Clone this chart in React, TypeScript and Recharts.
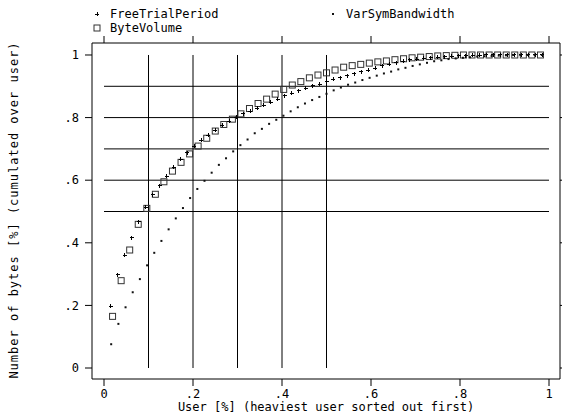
import { ScatterChart, Scatter, XAxis, YAxis, ReferenceLine } from "recharts";

const FONT = "'DejaVu Sans Mono', monospace";

const xTicks = [0, 0.2, 0.4, 0.6, 0.8, 1];
const yTicks = [0, 0.2, 0.4, 0.6, 0.8, 1];
const hLines = [0.5, 0.6, 0.7, 0.8, 0.9];
const vLines = [0.1, 0.2, 0.3, 0.4, 0.5];

// FreeTrialPeriod (+)
const freeTrialX = [
  0.0156, 0.0313, 0.0469, 0.0625, 0.0781, 0.0938, 0.1094, 0.125, 0.1406, 0.1563,
  0.1719, 0.1875, 0.2031, 0.2188, 0.2344, 0.25, 0.2656, 0.2813, 0.2969, 0.3125,
  0.3281, 0.3438, 0.3594, 0.375, 0.3906, 0.4063, 0.4219, 0.4375, 0.4531, 0.4688,
  0.4844, 0.5, 0.5156, 0.5313, 0.5469, 0.5625, 0.5781, 0.5938, 0.6094, 0.625,
  0.6406, 0.6563, 0.6719, 0.6875, 0.7031, 0.7188, 0.7344, 0.75, 0.7656, 0.7813,
  0.7969, 0.8125, 0.8281, 0.8438, 0.8594, 0.875, 0.8906, 0.9063, 0.9219, 0.9375,
  0.9531, 0.9688, 0.9844,
];
const freeTrialY = [
  0.197, 0.298, 0.36, 0.416, 0.467, 0.513, 0.553, 0.583, 0.613, 0.641,
  0.667, 0.688, 0.709, 0.727, 0.744, 0.76, 0.775, 0.789, 0.801, 0.812,
  0.82, 0.83, 0.84, 0.849, 0.858, 0.869, 0.877, 0.886, 0.894, 0.901,
  0.907, 0.915, 0.922, 0.928, 0.934, 0.94, 0.946, 0.952, 0.958, 0.965,
  0.97, 0.975, 0.98, 0.984, 0.987, 0.989, 0.991, 0.993, 0.995, 0.996,
  0.997, 0.998, 0.999, 0.999, 1, 1, 1, 1, 1, 1,
  1, 1, 1,
];

// VarSymBandwidth (.)
const varSymX = [
  0.0161, 0.0323, 0.0484, 0.0645, 0.0806, 0.0968, 0.1129, 0.129, 0.1452, 0.1613,
  0.1774, 0.1935, 0.2097, 0.2258, 0.2419, 0.2581, 0.2742, 0.2903, 0.3065, 0.3226,
  0.3387, 0.3548, 0.371, 0.3871, 0.4032, 0.4194, 0.4355, 0.4516, 0.4677, 0.4839,
  0.5, 0.5161, 0.5323, 0.5484, 0.5645, 0.5806, 0.5968, 0.6129, 0.629, 0.6452,
  0.6613, 0.6774, 0.6935, 0.7097, 0.7258, 0.7419, 0.7581, 0.7742, 0.7903, 0.8065,
  0.8226, 0.8387, 0.8548, 0.871, 0.8871, 0.9032, 0.9194, 0.9355, 0.9516, 0.9677,
  0.9839,
];
const varSymY = [
  0.076, 0.141, 0.194, 0.242, 0.284, 0.328, 0.368, 0.406, 0.443, 0.478,
  0.511, 0.543, 0.572, 0.598, 0.624, 0.649, 0.67, 0.692, 0.712, 0.73,
  0.75, 0.764, 0.78, 0.793, 0.806, 0.82, 0.833, 0.845, 0.856, 0.866,
  0.876, 0.887, 0.896, 0.905, 0.912, 0.92, 0.927, 0.934, 0.941, 0.947,
  0.954, 0.959, 0.965, 0.97, 0.975, 0.98, 0.983, 0.987, 0.989, 0.991,
  0.993, 0.995, 0.996, 0.997, 0.998, 0.999, 1, 1, 1, 1,
  1,
];

// ByteVolume (square)
const byteVolX = [
  0.0192, 0.0385, 0.0577, 0.0769, 0.0962, 0.1154, 0.1346, 0.1538, 0.1731, 0.1923,
  0.2115, 0.2308, 0.25, 0.2692, 0.2885, 0.3077, 0.3269, 0.3462, 0.3654, 0.3846,
  0.4038, 0.4231, 0.4423, 0.4615, 0.4808, 0.5, 0.5192, 0.5385, 0.5577, 0.5769,
  0.5962, 0.6154, 0.6346, 0.6538, 0.6731, 0.6923, 0.7115, 0.7308, 0.75, 0.7692,
  0.7885, 0.8077, 0.8269, 0.8462, 0.8654, 0.8846, 0.9038, 0.9231, 0.9423, 0.9615,
  0.9808,
];
const byteVolY = [
  0.165, 0.279, 0.377, 0.459, 0.51, 0.555, 0.595, 0.629, 0.657, 0.684,
  0.709, 0.734, 0.757, 0.778, 0.795, 0.812, 0.829, 0.845, 0.859, 0.875,
  0.89, 0.904, 0.915, 0.927, 0.936, 0.943, 0.952, 0.961, 0.966, 0.97,
  0.974, 0.978, 0.981, 0.985, 0.988, 0.991, 0.993, 0.995, 0.997, 0.998,
  0.999, 1, 1, 1, 1, 1, 1, 1, 1, 1,
  1,
];

const toPoints = (xs: number[], ys: number[]) => xs.map((x, i) => ({ x, y: ys[i] }));

const freeTrial = toPoints(freeTrialX, freeTrialY);
const varSym = toPoints(varSymX, varSymY);
const byteVol = toPoints(byteVolX, byteVolY);

const fmt = (v: number) => (v === 0 ? "0" : v === 1 ? "1" : String(v).replace(/^0/, ""));

const Plus = (p: any) => (
  <g stroke="#000" strokeWidth={1} shapeRendering="crispEdges">
    <line x1={p.cx - 2} y1={p.cy} x2={p.cx + 2} y2={p.cy} />
    <line x1={p.cx} y1={p.cy - 2} x2={p.cx} y2={p.cy + 2} />
  </g>
);

const Dot = (p: any) => <rect x={p.cx - 1} y={p.cy - 1} width={2} height={2} fill="#111" />;

const Square = (p: any) => (
  <rect x={p.cx - 3} y={p.cy - 3} width={6} height={6} fill="none" stroke="#333" strokeWidth={1} />
);

const text: React.CSSProperties = {
  position: "absolute",
  fontFamily: FONT,
  fontSize: 12,
  lineHeight: "14px",
  color: "#000",
  whiteSpace: "nowrap",
};

export default function App() {
  return (
    <div style={{ position: "absolute", left: 0, top: 0, width: 562, height: 418, background: "#fff" }}>
      <ScatterChart width={562} height={418} margin={{ top: 33, right: 0, bottom: 0, left: 0 }}>
        <XAxis
          type="number"
          dataKey="x"
          domain={[-0.027, 1.0247]}
          ticks={xTicks}
          tickFormatter={fmt}
          height={39}
          tickSize={7}
          tickMargin={3}
          stroke="#000"
          tick={{ fill: "#000", fontSize: 12, fontFamily: FONT }}
          allowDataOverflow
        />
        <XAxis
          xAxisId="top"
          orientation="top"
          type="number"
          dataKey="x"
          domain={[-0.027, 1.0247]}
          ticks={xTicks}
          tickFormatter={() => ""}
          height={10}
          tickSize={7}
          stroke="#000"
          allowDataOverflow
        />
        <YAxis
          type="number"
          dataKey="y"
          domain={[-0.0351, 1.0383]}
          ticks={yTicks}
          tickFormatter={fmt}
          width={92}
          tickSize={7}
          tickMargin={6}
          stroke="#000"
          tick={{ fill: "#000", fontSize: 12, fontFamily: FONT }}
          allowDataOverflow
        />
        <YAxis
          yAxisId="right"
          orientation="right"
          type="number"
          domain={[-0.0351, 1.0383]}
          ticks={yTicks}
          tickFormatter={() => ""}
          width={2}
          tickSize={7}
          stroke="#000"
          allowDataOverflow
        />
        {hLines.map((v) => (
          <ReferenceLine
            key={"h" + v}
            segment={[{ x: 0, y: v }, { x: 1, y: v }]}
            stroke="#000"
            strokeWidth={1}
          />
        ))}
        {vLines.map((v) => (
          <ReferenceLine
            key={"v" + v}
            segment={[{ x: v, y: 0 }, { x: v, y: 1 }]}
            stroke="#000"
            strokeWidth={1}
          />
        ))}
        <Scatter name="ByteVolume" data={byteVol} shape={Square} isAnimationActive={false} />
        <Scatter name="FreeTrialPeriod" data={freeTrial} shape={Plus} isAnimationActive={false} />
        <Scatter name="VarSymBandwidth" data={varSym} shape={Dot} isAnimationActive={false} />
      </ScatterChart>

      {/* legend */}
      <svg style={{ position: "absolute", left: 0, top: 0 }} width={562} height={40}>
        <Plus cx={97} cy={14} />
        <Dot cx={333} cy={14} />
        <Square cx={97} cy={28} />
      </svg>
      <div style={{ ...text, left: 110, top: 7 }}>FreeTrialPeriod</div>
      <div style={{ ...text, left: 346, top: 7 }}>VarSymBandwidth</div>
      <div style={{ ...text, left: 110, top: 21 }}>ByteVolume</div>

      {/* axis titles */}
      <div style={{ ...text, left: 326, top: 400, transform: "translateX(-50%)" }}>
        User [%] (heaviest user sorted out first)
      </div>
      <div
        style={{
          ...text,
          left: 14,
          top: 210,
          letterSpacing: 1,
          transform: "translate(-50%, -50%) rotate(-90deg)",
        }}
      >
        Number of bytes [%] (cumulated over user)
      </div>
    </div>
  );
}
